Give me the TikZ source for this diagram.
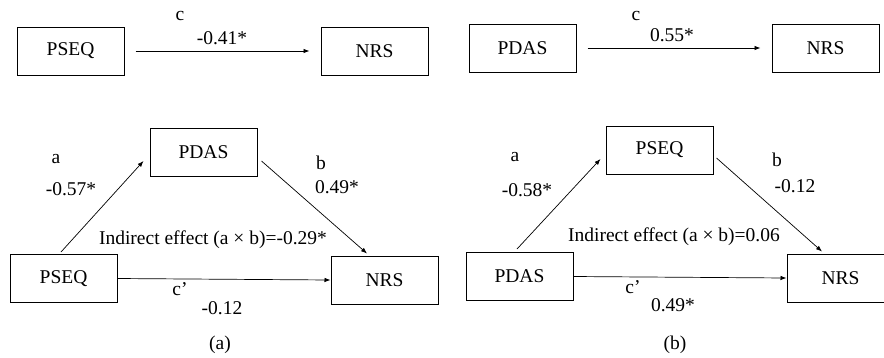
\documentclass[tikz,border=0pt]{standalone}
\usepackage{fontspec}
\setmainfont{Liberation Serif}
\usetikzlibrary{arrows.meta,calc}
\begin{document}
\begin{tikzpicture}[x=1pt,y=-1pt,
  box/.style={draw, line width=1pt, minimum width=107pt, minimum height=48pt, inner sep=0pt, font=\fontsize{19.5}{22}\selectfont},
  lbl/.style={inner sep=0pt, font=\fontsize{19.5}{22}\selectfont},
  arr/.style={line width=0.7pt, -{Latex[length=6pt,width=4.5pt]}}]
\useasboundingbox (0,0) rectangle (884,357);
% ---- top (a) ----
\node[box] (t1x) at (70.5,51) {PSEQ};
\node[box] (t1y) at (374.5,51) {NRS};
\draw[arr, shorten <=11pt, shorten >=11pt] (t1x.east) -- (t1y.west);
\node[lbl] (t1c) at (180,16) {c};
\node[lbl] (t1v) at (222,38) {-0.41*};
% ---- top (b) ----
\node[box] (t2x) at (522.5,48) {PDAS};
\node[box] (t2y) at (825.5,48) {NRS};
\draw[arr, shorten <=11pt, shorten >=11pt] (t2x.east) -- (t2y.west);
\node[lbl] (t2c) at (636,16) {c};
\node[lbl] (t2v) at (672,35) {0.55*};
% ---- bottom (a) ----
\node[box] (am) at (203.5,152) {PDAS};
\node[box] (ax) at (63.5,278.5) {PSEQ};
\node[box] (ay) at (384.5,280) {NRS};
\coordinate (aa1) at ($(ax.north)+(-2.5,-2)$);
\coordinate (aa2) at ($(am.west)+(-6,9)$);
\draw[arr] (aa1) -- (aa2);
\coordinate (ab1) at ($(am.east)+(4,9)$);
\coordinate (ab2) at ($(ay.north)+(-17.5,-2)$);
\draw[arr] (ab1) -- (ab2);
\draw[arr] (ax.east) -- (ay.west);
\node[lbl] (aal) at (56,159) {a};
\node[lbl] (aav) at (71,189) {-0.57*};
\node[lbl] (abl) at (321,163) {b};
\node[lbl] (abv) at (337,187) {0.49*};
\node[lbl] (aie) at (213,240) {Indirect effect (a × b)=-0.29*};
\node[lbl] (acl) at (180,289) {c’};
\node[lbl] (acv) at (222,308) {-0.12};
\node[lbl] (acap) at (220,345) {(a)};
% ---- bottom (b) ----
\node[box] (bm) at (659.5,150) {PSEQ};
\node[box] (bx) at (519.5,276.5) {PDAS};
\node[box] (by) at (840.5,278) {NRS};
\coordinate (ba1) at ($(bx.north)+(-2.5,-3)$);
\coordinate (ba2) at ($(bm.west)+(-5,9)$);
\draw[arr] (ba1) -- (ba2);
\coordinate (bb1) at ($(bm.east)+(3,8)$);
\coordinate (bb2) at ($(by.north)+(-18.5,-2)$);
\draw[arr] (bb1) -- (bb2);
\draw[arr] (bx.east) -- (by.west);
\node[lbl] (bal) at (515,157) {a};
\node[lbl] (bav) at (527,190) {-0.58*};
\node[lbl] (bbl) at (777,160) {b};
\node[lbl] (bbv) at (795,186) {-0.12};
\node[lbl] (bie) at (674,237) {Indirect effect (a × b)=0.06};
\node[lbl] (bcl) at (633,287) {c’};
\node[lbl] (bcv) at (673,305) {0.49*};
\node[lbl] (bcap) at (675,345) {(b)};
\end{tikzpicture}
\end{document}
